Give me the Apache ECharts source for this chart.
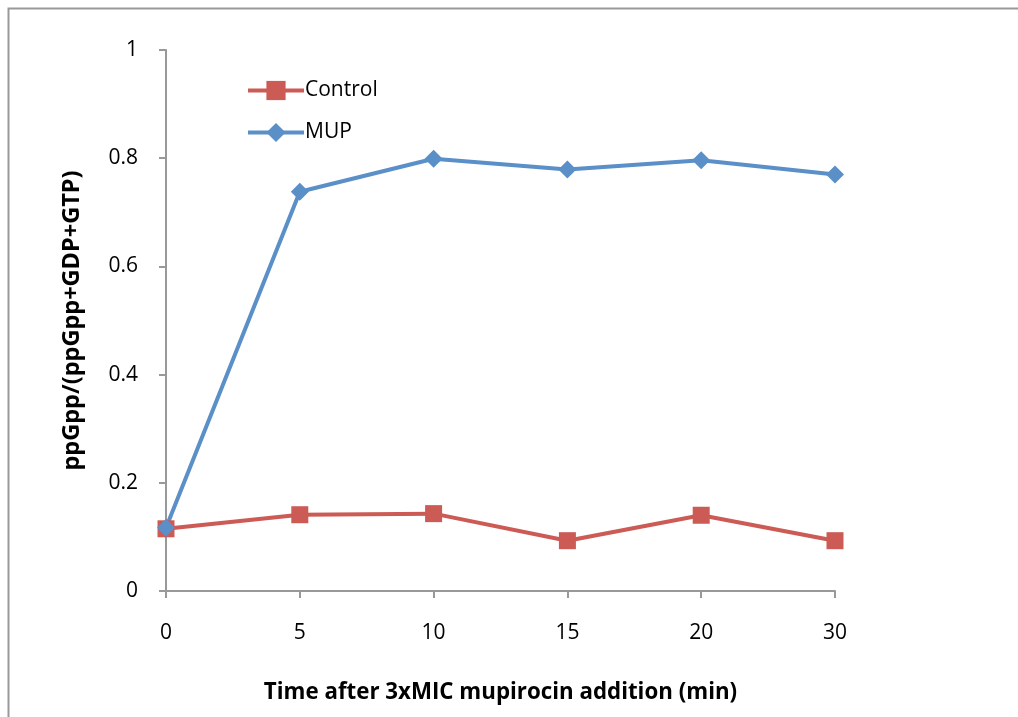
<!DOCTYPE html>
<html><head><meta charset="utf-8">
<script src="https://cdn.jsdelivr.net/npm/echarts@6/dist/echarts.min.js"></script>
<style>html,body{margin:0;padding:0;background:#fff}#c{width:1018px;height:717px}</style>
</head><body><div id="c"></div>
<script>
var categories = ['0','5','10','15','20','30'];
var controlValues = [0.115, 0.141, 0.143, 0.093, 0.140, 0.093];
var mupValues = [0.117, 0.738, 0.799, 0.779, 0.796, 0.770];
var yTicks = [0, 0.2, 0.4, 0.6, 0.8, 1];

var FONT = 'Open Sans';
var chart = echarts.init(document.getElementById('c'), null, {renderer:'canvas'});
chart.setOption({
  animation:false,
  backgroundColor:'#fff',
  textStyle:{fontFamily:FONT},
  graphic:[{type:'rect', shape:{x:8.5,y:8.5,width:1100,height:800}, style:{fill:null, stroke:'#999', lineWidth:2}, silent:true}],
  grid:{left:166, right:183, top:50, bottom:126, containLabel:false},
  legend:{
    orient:'vertical', left:241, top:75, itemGap:21, itemWidth:56, itemHeight:24,
    data:['Control','MUP'],
    lineStyle:{width:4},
    textStyle:{fontFamily:FONT, fontSize:21, color:'#000', padding:[0,0,0,-4]}
  },
  xAxis:{
    type:'category', data:categories, boundaryGap:false,
    name:'Time after 3xMIC mupirocin addition (min)', nameLocation:'middle', nameGap:91,
    nameTextStyle:{fontFamily:FONT, fontWeight:'bold', fontSize:22.3, color:'#000'},
    axisLine:{lineStyle:{color:'#999', width:2}},
    axisTick:{show:true, length:7, lineStyle:{color:'#999', width:2}},
    axisLabel:{fontFamily:FONT, fontSize:21, color:'#000', margin:32},
    splitLine:{show:false}
  },
  yAxis:{
    type:'value', min:0, max:1, interval:0.2,
    name:'ppGpp/(ppGpp+GDP+GTP)', nameLocation:'middle', nameGap:82, nameRotate:90,
    nameTextStyle:{fontFamily:FONT, fontWeight:'bold', fontSize:23.5, color:'#000'},
    axisLine:{show:true, lineStyle:{color:'#999', width:2}},
    axisTick:{show:true, length:7, lineStyle:{color:'#999', width:2}},
    axisLabel:{fontFamily:FONT, fontSize:21, color:'#000', margin:28,
      formatter:function(v){ var i = yTicks.indexOf(Math.round(v*10)/10); return i>=0 ? String(yTicks[i]) : ''; }},
    splitLine:{show:false}
  },
  series:[
    {name:'Control', type:'line', data:controlValues, symbol:'rect', symbolSize:17,
     lineStyle:{color:'#CC5A55', width:4}, itemStyle:{color:'#CC5A55'}},
    {name:'MUP', type:'line', data:mupValues, symbol:'diamond', symbolSize:[18,18],
     lineStyle:{color:'#5A8FC8', width:4}, itemStyle:{color:'#5A8FC8'}}
  ]
});
</script></body></html>
